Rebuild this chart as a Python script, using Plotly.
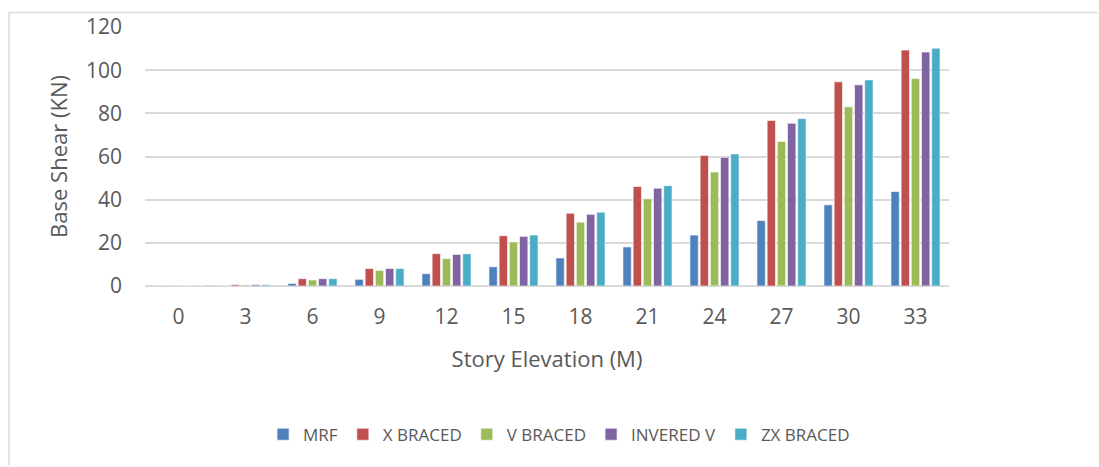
import plotly.graph_objects as go

# Story elevations (m) and base shear (kN) for each frame system
elevations = ["0", "3", "6", "9", "12", "15", "18", "21", "24", "27", "30", "33"]
mrf = [0, 0.2, 1.2, 3.1, 5.7, 8.9, 13.0, 18.1, 23.6, 30.3, 37.6, 43.8]
x_braced = [0, 0.6, 3.4, 8.1, 15.0, 23.3, 33.7, 46.1, 60.5, 76.7, 94.6, 109.3]
v_braced = [0, 0.5, 2.8, 7.2, 12.7, 20.4, 29.6, 40.4, 52.8, 67.0, 83.0, 96.1]
invered_v = [0, 0.6, 3.4, 8.1, 14.6, 23.0, 33.2, 45.3, 59.6, 75.4, 93.2, 108.4]
zx_braced = [0, 0.6, 3.4, 8.1, 14.9, 23.6, 34.2, 46.5, 61.2, 77.6, 95.5, 110.2]

series = [
    ("MRF", mrf, "#4F81BD"),
    ("X BRACED", x_braced, "#C0504D"),
    ("V BRACED", v_braced, "#9BBB59"),
    ("INVERED V", invered_v, "#8064A2"),
    ("ZX BRACED", zx_braced, "#4BACC6"),
]

fig = go.Figure()
for name, vals, color in series:
    fig.add_trace(go.Bar(
        name=name, x=elevations, y=vals,
        marker=dict(color=color, line=dict(color="rgba(255,255,255,0.6)", width=1)),
    ))

FONT = "Open Sans"
GRID = "#D9D9D9"
TXT = "#595959"

fig.update_layout(
    width=1099, height=467,
    margin=dict(l=145, r=150, t=25, b=181),
    paper_bgcolor="white", plot_bgcolor="white",
    barmode="group", bargap=0.24, bargroupgap=0.18,
    font=dict(family=FONT, color=TXT),
    xaxis=dict(
        type="category", showgrid=False, showline=False, ticks="",
        tickfont=dict(size=21, color=TXT), ticklabelstandoff=16,
        title=dict(text="Story Elevation (M)", font=dict(size=22, color=TXT), standoff=22),
    ),
    yaxis=dict(
        range=[0, 120], dtick=20, showgrid=True, gridcolor=GRID, gridwidth=1.5,
        zeroline=True, zerolinecolor=GRID, zerolinewidth=1.5,
        tickfont=dict(size=21, color=TXT), ticks="", ticklabelstandoff=22,
        title=dict(text="Base Shear (KN)", font=dict(size=22, color=TXT), standoff=12),
    ),
    legend=dict(
        orientation="h", x=0.515, xanchor="center", y=-0.574, yanchor="middle",
        font=dict(size=17, color=TXT), itemwidth=30, traceorder="normal",
    ),
    shapes=[
        dict(type="line", xref="paper", yref="paper",
             x0=-0.1692, x1=1.1853, y0=1.0563, y1=1.0563,
             line=dict(color=GRID, width=1.5)),
        dict(type="line", xref="paper", yref="paper",
             x0=-0.1692, x1=-0.1692, y0=1.0563, y1=-0.6927,
             line=dict(color=GRID, width=1.5)),
    ],
)

fig.write_html("out.html")
